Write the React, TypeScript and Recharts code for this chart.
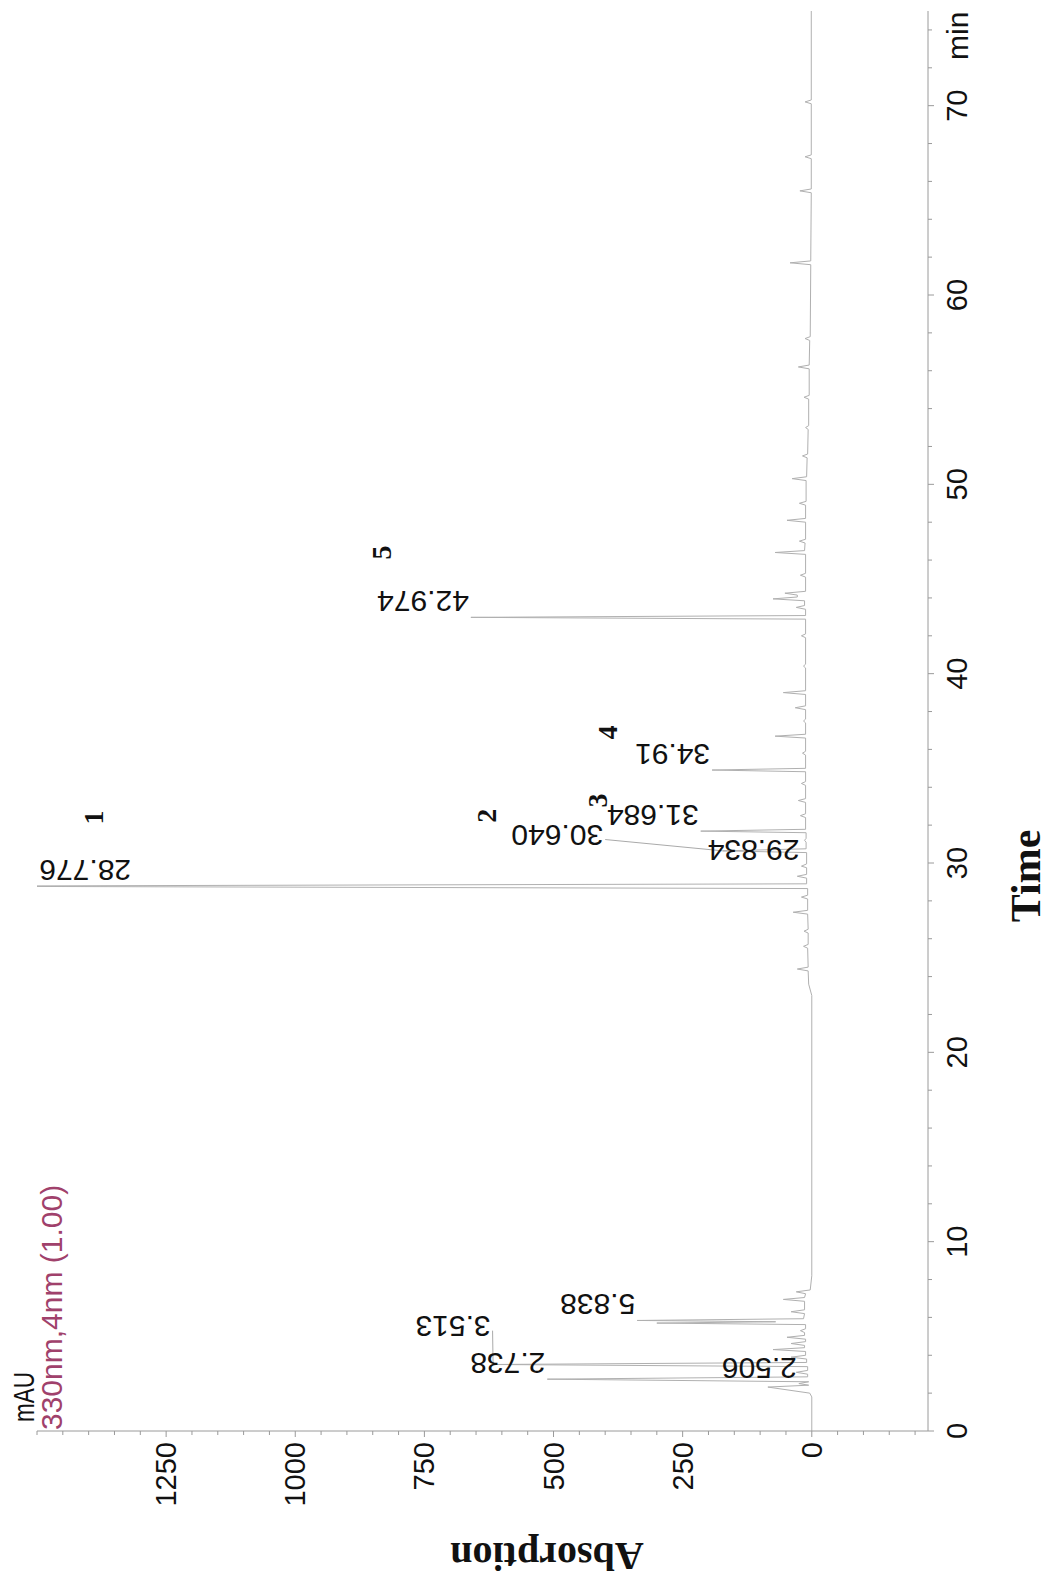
import React from 'react';
import { LineChart, Line, XAxis, YAxis, ReferenceDot, ReferenceLine } from 'recharts';

// chromatogram trace (min, mAU)
const traceTimes = [
  0, 1.8, 2.0, 2.32, 2.42, 2.506, 2.6, 2.738, 2.86, 3.0, 3.1, 3.2, 3.4, 3.513, 3.62, 3.8, 3.9, 4.0, 4.2, 4.3,
  4.4, 4.52, 4.62, 4.72, 4.85, 4.95, 5.05, 5.2, 5.3, 5.4, 5.62, 5.7, 5.77, 5.838, 5.93, 6.2, 6.3, 6.4, 6.85, 6.95,
  7.05, 7.25, 7.35, 7.45, 8.2, 23.0, 23.6, 24.3, 24.4, 24.5, 25.5, 25.6, 25.7, 26.3, 26.4, 26.5, 27.3, 27.4, 27.5, 28.1,
  28.2, 28.3, 28.65, 28.776, 28.9, 29.2, 29.3, 29.4, 29.75, 29.834, 29.95, 30.55, 30.64, 30.75, 31.1, 31.2, 31.3, 31.6, 31.684, 31.78,
  32.4, 32.5, 32.6, 33.2, 33.3, 33.4, 34.1, 34.2, 34.3, 34.82, 34.91, 35.0, 35.7, 35.8, 35.9, 36.6, 36.7, 36.8, 37.4, 37.5,
  37.6, 38.1, 38.2, 38.3, 38.9, 39.0, 39.1, 40.3, 40.4, 40.5, 41.9, 42.0, 42.1, 42.88, 42.974, 43.07, 43.4, 43.5, 43.6, 43.85,
  43.95, 44.05, 44.15, 44.25, 44.35, 45.1, 45.2, 45.3, 46.3, 46.4, 46.5, 46.9, 47.0, 47.1, 48.0, 48.1, 48.2, 48.9, 49.0, 49.1,
  50.2, 50.3, 50.4, 51.4, 51.5, 51.6, 52.9, 53.0, 53.1, 54.5, 54.6, 54.7, 56.1, 56.2, 56.3, 57.6, 57.7, 57.8, 61.6, 61.7,
  61.8, 65.4, 65.5, 65.6, 67.2, 67.3, 67.4, 70.1, 70.2, 70.3, 75,
];
const traceValues = [
  0, 0, 4, 85, 6, 25, 6, 512, 8, 8, 30, 8, 8, 617, 10, 10, 40, 12, 12, 75,
  14, 14, 40, 12, 12, 48, 14, 14, 22, 12, 12, 300, 70, 338, 16, 14, 40, 14, 14, 55,
  14, 12, 30, 3, 0, 0, 6, 7, 28, 7, 8, 16, 7, 7, 15, 7, 8, 36, 8, 8,
  20, 8, 8, 1700, 10, 10, 28, 10, 10, 20, 10, 10, 172, 11, 11, 14, 11, 11, 215, 12,
  12, 22, 12, 12, 26, 12, 12, 20, 12, 12, 193, 12, 12, 18, 12, 12, 71, 12, 12, 16,
  12, 12, 32, 12, 12, 55, 12, 12, 16, 12, 12, 20, 12, 12, 660, 12, 12, 30, 14, 14,
  75, 28, 28, 52, 12, 12, 22, 12, 12, 71, 14, 13, 24, 12, 12, 48, 12, 12, 24, 11,
  11, 38, 10, 9, 18, 8, 7, 12, 6, 6, 15, 5, 5, 26, 5, 4, 13, 3, 2, 42,
  2, 1, 23, 1, 1, 13, 1, 1, 13, 1, 1,
];

// retention time labels
const peakLabels = ['2.506', '2.738', '3.513', '5.838', '28.776', '29.834', '30.640', '31.684', '34.91', '42.974'];
const peakTimes = [2.506, 2.738, 3.513, 5.838, 28.776, 29.834, 30.64, 31.684, 34.91, 42.974];
const peakTops = [25, 512, 617, 338, 1314, 20, 172, 215, 193, 660];
const labelTimes = [2.506, 2.738, 4.7, 5.838, 28.776, 29.834, 30.64, 31.684, 34.91, 42.974];
const labelTops = [25, 512, 618, 338, 1314, 20, 400, 215, 193, 660];

// compound numbers
const compoundNames = ['1', '2', '3', '4', '5'];
const compoundTimes = [32.4, 32.5, 33.3, 36.9, 46.4];
const compoundValues = [1391, 630, 415, 396, 834];

const timeTicks = Array.from({ length: 38 }, (_, i) => i * 2);
const mauTicks = Array.from({ length: 35 }, (_, i) => -200 + i * 50);

const data = traceTimes.map((t, i) => ({ t, v: traceValues[i] }));

const AXIS = '#9a9a9a';
const SANS = '"Liberation Sans", Arial, sans-serif';
const SERIF = '"Liberation Serif", "Times New Roman", serif';

const BottomTick = ({ x, y, payload }: any) => {
  const major = payload.value % 10 === 0;
  return (
    <g>
      <line x1={x} y1={y} x2={x} y2={y + (major ? 6 : 4)} stroke={AXIS} />
      {major && (
        <text x={x} y={y + 39} textAnchor="middle" fontSize={29} fontFamily={SANS} fill="#111">
          {payload.value}
        </text>
      )}
    </g>
  );
};

const LeftTick = ({ x, y, payload }: any) => {
  const v = payload.value;
  const major = v % 250 === 0 && v >= 0 && v <= 1250;
  return (
    <g>
      <line x1={x - (major ? 6 : 4)} y1={y} x2={x} y2={y} stroke={AXIS} />
      {major && (
        <text x={x - 11} y={y + 10} textAnchor="end" fontSize={29} fontFamily={SANS} fill="#111">
          {v}
        </text>
      )}
    </g>
  );
};

const TopTick = ({ x, y }: any) => <line x1={x} y1={y} x2={x} y2={y + 3} stroke="#c4c4c4" />;
const RightTick = ({ x, y }: any) => <line x1={x - 3} y1={y} x2={x} y2={y} stroke="#c4c4c4" />;

const peakLabel = (text: string) => ({ cx, cy }: any) => (
  <text
    transform={`translate(${cx + 26},${cy - 2}) rotate(-90)`}
    fontSize={30}
    fontFamily={SANS}
    fill="#111"
  >
    {text}
  </text>
);

const compoundLabel = (text: string) => ({ cx, cy }: any) => (
  <text
    x={cx}
    y={cy}
    textAnchor="middle"
    dominantBaseline="central"
    fontSize={28}
    fontWeight="bold"
    fontFamily={SERIF}
    fill="#111"
  >
    {text}
  </text>
);

export default function App() {
  return (
    <div style={{ position: 'absolute', left: 0, top: 0, width: 1052, height: 1581, overflow: 'hidden', background: '#fff' }}>
      <div
        style={{
          position: 'absolute',
          left: 0,
          top: 0,
          width: 1581,
          height: 1052,
          transform: 'translateY(1581px) rotate(-90deg)',
          transformOrigin: '0 0',
        }}
      >
        <div style={{ position: 'absolute', left: 0, top: 0 }}>
          <LineChart width={1581} height={1052} data={data} margin={{ top: 37, right: 11, bottom: 0, left: 0 }}>
            <XAxis
              dataKey="t"
              type="number"
              domain={[0, 75]}
              ticks={timeTicks}
              interval={0}
              height={124}
              tickSize={0}
              tickMargin={0}
              tick={<BottomTick />}
              axisLine={{ stroke: AXIS }}
              allowDataOverflow
            />
            <XAxis
              xAxisId="top"
              orientation="top"
              dataKey="t"
              type="number"
              domain={[0, 75]}
              ticks={timeTicks}
              interval={0}
              height={0}
              tickSize={0}
              tickMargin={0}
              tick={<TopTick />}
              axisLine={{ stroke: '#c4c4c4' }}
            />
            <YAxis
              type="number"
              domain={[-225, 1500]}
              ticks={mauTicks}
              interval={0}
              width={150}
              tickSize={0}
              tickMargin={0}
              tick={<LeftTick />}
              axisLine={{ stroke: AXIS }}
              allowDataOverflow
            />
            <YAxis
              yAxisId="right"
              orientation="right"
              type="number"
              domain={[-225, 1500]}
              ticks={mauTicks}
              interval={0}
              width={0}
              tickSize={0}
              tickMargin={0}
              tick={<RightTick />}
              axisLine={{ stroke: '#c4c4c4' }}
            />
            <Line
              type="linear"
              dataKey="v"
              stroke="#b0b0b0"
              strokeWidth={1}
              dot={false}
              isAnimationActive={false}
            />
            {peakLabels.map((lab, i) =>
              labelTimes[i] !== peakTimes[i] || labelTops[i] !== peakTops[i] ? (
                <ReferenceLine
                  key={'ld' + i}
                  segment={[
                    { x: peakTimes[i], y: peakTops[i] },
                    { x: labelTimes[i] + 0.6, y: labelTops[i] },
                  ]}
                  stroke="#aaaaaa"
                  strokeWidth={1}
                />
              ) : null
            )}
            {peakLabels.map((lab, i) => (
              <ReferenceDot key={'pl' + i} x={labelTimes[i]} y={labelTops[i]} r={0} shape={peakLabel(lab)} />
            ))}
            {compoundNames.map((n, i) => (
              <ReferenceDot key={'cn' + i} x={compoundTimes[i]} y={compoundValues[i]} r={0} shape={compoundLabel(n)} />
            ))}
          </LineChart>
        </div>
        <svg width={1581} height={1052} style={{ position: 'absolute', left: 0, top: 0, pointerEvents: 'none' }}>
          <text x={159} y={34} fontSize={29} fontFamily={SANS} fill="#111" textLength={50} lengthAdjust="spacingAndGlyphs">
            mAU
          </text>
          <text x={151} y={62} fontSize={30} fontFamily={SANS} fill="#a0416b">
            330nm,4nm (1.00)
          </text>
          <text x={1521} y={968} fontSize={30} fontFamily={SANS} fill="#111">
            min
          </text>
          <text x={705} y={1040} textAnchor="middle" fontSize={42} fontWeight="bold" fontFamily={SERIF} fill="#111">
            Time
          </text>
          <text
            transform="translate(38,547) rotate(-90)"
            textAnchor="middle"
            fontSize={40}
            fontWeight="bold"
            fontFamily={SERIF}
            fill="#111"
          >
            Absorption
          </text>
        </svg>
      </div>
    </div>
  );
}
